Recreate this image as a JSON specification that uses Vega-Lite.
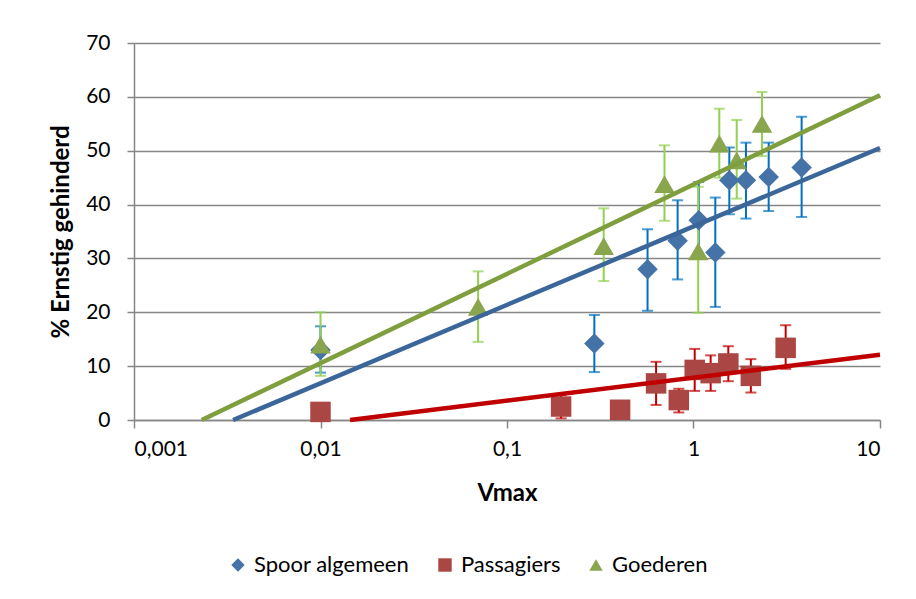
{
  "$schema": "https://vega.github.io/schema/vega-lite/v6.json",
  "width": 746,
  "height": 377,
  "autosize": {"type": "none"},
  "padding": {"left": 134, "top": 43, "right": 36, "bottom": 179},
  "background": "white",
  "config": {
    "font": "Lato",
    "view": {"stroke": null},
    "axis": {
      "labelFont": "Lato",
      "labelFontSize": 21,
      "labelColor": "#000000",
      "titleFont": "Lato",
      "titleFontSize": 24,
      "titleFontWeight": "bold",
      "titleColor": "#000000",
      "domainColor": "#868686",
      "domainWidth": 1.5,
      "tickColor": "#868686",
      "tickWidth": 1.5,
      "gridColor": "#868686",
      "gridWidth": 1.5
    }
  },
  "datasets": {
    "pts": [
      {"series": "Spoor algemeen", "x": 0.01, "y": 13.0, "lo": 8.8, "hi": 17.4},
      {"series": "Spoor algemeen", "x": 0.294, "y": 14.2, "lo": 8.9, "hi": 19.5},
      {"series": "Spoor algemeen", "x": 0.567, "y": 28.0, "lo": 20.3, "hi": 35.4},
      {"series": "Spoor algemeen", "x": 0.822, "y": 33.3, "lo": 26.1, "hi": 40.8},
      {"series": "Spoor algemeen", "x": 1.067, "y": 37.1, "lo": 30.0, "hi": 44.2},
      {"series": "Spoor algemeen", "x": 1.309, "y": 31.1, "lo": 21.0, "hi": 41.3},
      {"series": "Spoor algemeen", "x": 1.556, "y": 44.5, "lo": 38.2, "hi": 50.6},
      {"series": "Spoor algemeen", "x": 1.911, "y": 44.5, "lo": 37.4, "hi": 51.5},
      {"series": "Spoor algemeen", "x": 2.53, "y": 45.1, "lo": 38.8, "hi": 51.5},
      {"series": "Spoor algemeen", "x": 3.8, "y": 46.9, "lo": 37.7, "hi": 56.3},
      {"series": "Passagiers", "x": 0.01, "y": 1.5, "lo": null, "hi": null},
      {"series": "Passagiers", "x": 0.195, "y": 2.5, "lo": 0.3, "hi": 4.7},
      {"series": "Passagiers", "x": 0.404, "y": 1.9, "lo": null, "hi": null},
      {"series": "Passagiers", "x": 0.63, "y": 6.8, "lo": 2.8, "hi": 10.8},
      {"series": "Passagiers", "x": 0.834, "y": 3.7, "lo": 1.4, "hi": 5.8},
      {"series": "Passagiers", "x": 1.015, "y": 9.3, "lo": 5.4, "hi": 13.2},
      {"series": "Passagiers", "x": 1.236, "y": 8.7, "lo": 5.4, "hi": 12.0},
      {"series": "Passagiers", "x": 1.537, "y": 10.5, "lo": 7.2, "hi": 13.7},
      {"series": "Passagiers", "x": 2.03, "y": 8.2, "lo": 5.1, "hi": 11.3},
      {"series": "Passagiers", "x": 3.12, "y": 13.4, "lo": 9.5, "hi": 17.6},
      {"series": "Goederen", "x": 0.01, "y": 14.0, "lo": 8.2, "hi": 20.0},
      {"series": "Goederen", "x": 0.07, "y": 21.0, "lo": 14.5, "hi": 27.6},
      {"series": "Goederen", "x": 0.33, "y": 32.3, "lo": 25.8, "hi": 39.3},
      {"series": "Goederen", "x": 0.699, "y": 43.8, "lo": 37.0, "hi": 51.0},
      {"series": "Goederen", "x": 1.06, "y": 31.3, "lo": 19.9, "hi": 43.3},
      {"series": "Goederen", "x": 1.375, "y": 51.3, "lo": 45.0, "hi": 57.8},
      {"series": "Goederen", "x": 1.705, "y": 48.2, "lo": 41.1, "hi": 55.7},
      {"series": "Goederen", "x": 2.33, "y": 55.0, "lo": 49.0, "hi": 60.9}
    ],
    "trend": [
      {"series": "Spoor algemeen", "x": 0.0034, "y": 0},
      {"series": "Spoor algemeen", "x": 10, "y": 50.5},
      {"series": "Passagiers", "x": 0.0144, "y": 0},
      {"series": "Passagiers", "x": 10, "y": 12.1},
      {"series": "Goederen", "x": 0.00231, "y": 0},
      {"series": "Goederen", "x": 10, "y": 60.3}
    ]
  },
  "encoding": {
    "x": {"field": "x", "type": "quantitative", "scale": {"type": "log", "domain": [0.001, 10]},
      "axis": {"title": "Vmax", "values": [0.001, 0.01, 0.1, 1, 10], "grid": false, "tickSize": 8,
        "labelPadding": 10, "titlePadding": 22, "labelExpr": "replace(toString(datum.value), '.', ',')"}},
    "y": {"field": "y", "type": "quantitative", "scale": {"domain": [0, 70], "nice": false},
      "axis": {"title": "% Ernstig gehinderd", "values": [0, 10, 20, 30, 40, 50, 60, 70], "grid": true,
        "tickSize": 7, "labelPadding": 17, "titlePadding": 12}}
  },
  "layer": [
    {
      "data": {"name": "pts"},
      "transform": [{"filter": "datum.series === 'Spoor algemeen'"}],
      "layer": [
        {"mark": {"type": "rule", "strokeWidth": 2, "color": "#0070C0"},
         "encoding": {"y": {"field": "lo", "type": "quantitative"}, "y2": {"field": "hi"}}},
        {"mark": {"type": "tick", "orient": "horizontal", "size": 11, "thickness": 2, "color": "#0070C0"},
         "encoding": {"y": {"field": "lo", "type": "quantitative"}}},
        {"mark": {"type": "tick", "orient": "horizontal", "size": 11, "thickness": 2, "color": "#0070C0"},
         "encoding": {"y": {"field": "hi", "type": "quantitative"}}}
      ]
    },
    {
      "data": {"name": "pts"},
      "transform": [{"filter": "datum.series === 'Passagiers'"}],
      "layer": [
        {"mark": {"type": "rule", "strokeWidth": 2, "color": "#C00000"},
         "encoding": {"y": {"field": "lo", "type": "quantitative"}, "y2": {"field": "hi"}}},
        {"mark": {"type": "tick", "orient": "horizontal", "size": 11, "thickness": 2, "color": "#C00000"},
         "encoding": {"y": {"field": "lo", "type": "quantitative"}}},
        {"mark": {"type": "tick", "orient": "horizontal", "size": 11, "thickness": 2, "color": "#C00000"},
         "encoding": {"y": {"field": "hi", "type": "quantitative"}}}
      ]
    },
    {
      "data": {"name": "pts"},
      "transform": [{"filter": "datum.series === 'Goederen'"}],
      "layer": [
        {"mark": {"type": "rule", "strokeWidth": 2, "color": "#92D050"},
         "encoding": {"y": {"field": "lo", "type": "quantitative"}, "y2": {"field": "hi"}}},
        {"mark": {"type": "tick", "orient": "horizontal", "size": 11, "thickness": 2, "color": "#92D050"},
         "encoding": {"y": {"field": "lo", "type": "quantitative"}}},
        {"mark": {"type": "tick", "orient": "horizontal", "size": 11, "thickness": 2, "color": "#92D050"},
         "encoding": {"y": {"field": "hi", "type": "quantitative"}}}
      ]
    },
    {
      "data": {"name": "pts"},
      "mark": {"type": "point", "filled": true, "opacity": 1, "size": 420},
      "encoding": {
        "color": {"field": "series", "type": "nominal",
          "scale": {"domain": ["Spoor algemeen", "Passagiers", "Goederen"], "range": ["#4572A7", "#AA4643", "#89A54E"]},
          "legend": {"title": null, "orient": "none", "direction": "horizontal", "legendX": 93, "legendY": 511,
            "labelFont": "Lato", "labelFontSize": 22, "labelColor": "#000000", "symbolSize": 180,
            "columnPadding": 24, "labelOffset": 5, "symbolOpacity": 1, "symbolStrokeWidth": 0}},
        "shape": {"field": "series", "type": "nominal",
          "scale": {"domain": ["Spoor algemeen", "Passagiers", "Goederen"], "range": ["diamond", "square", "triangle-up"]},
          "legend": {"title": null, "orient": "none", "direction": "horizontal", "legendX": 93, "legendY": 511,
            "labelFont": "Lato", "labelFontSize": 22, "labelColor": "#000000", "symbolSize": 180,
            "columnPadding": 24, "labelOffset": 5, "symbolOpacity": 1, "symbolStrokeWidth": 0}}
      }
    },
    {
      "data": {"name": "trend"},
      "transform": [{"filter": "datum.series === 'Spoor algemeen'"}],
      "mark": {"type": "line", "strokeWidth": 4.5, "color": "#3A6699"},
      "encoding": {}
    },
    {
      "data": {"name": "trend"},
      "transform": [{"filter": "datum.series === 'Passagiers'"}],
      "mark": {"type": "line", "strokeWidth": 4.5, "color": "#C00000"},
      "encoding": {}
    },
    {
      "data": {"name": "trend"},
      "transform": [{"filter": "datum.series === 'Goederen'"}],
      "mark": {"type": "line", "strokeWidth": 4.5, "color": "#7F9F3F"},
      "encoding": {}
    }
  ]
}
